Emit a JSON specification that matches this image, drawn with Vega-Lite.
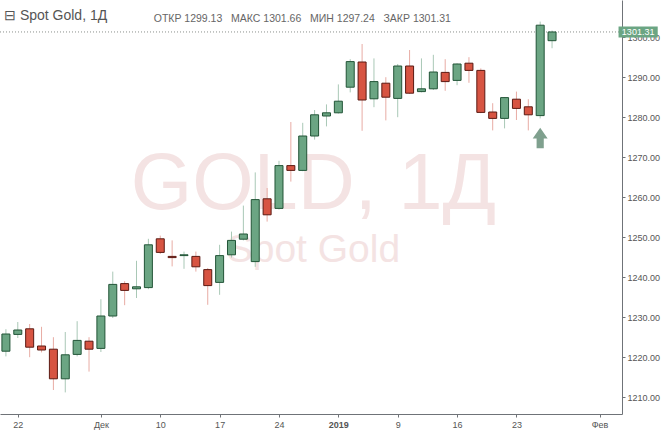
{
  "$schema": "https://vega.github.io/schema/vega-lite/v6.json",
  "autosize": {"type": "none"},
  "width": 622,
  "height": 414,
  "padding": {"left": 0, "top": 0, "right": 43, "bottom": 20},
  "background": "white",
  "title": {
    "text": "⊟ Spot Gold, 1Д",
    "anchor": "start",
    "frame": "group",
    "baseline": "alphabetic",
    "offset": -34,
    "dx": 4,
    "font": "Liberation Sans",
    "fontSize": 14,
    "fontWeight": "normal",
    "color": "#555555"
  },
  "datasets": {
    "candles": [
      {"d": "2018-11-21", "n": -1, "o": 1221.5, "h": 1227.0, "l": 1220.2, "c": 1225.8},
      {"d": "2018-11-22", "n": 0, "o": 1225.7, "h": 1228.8, "l": 1224.8, "c": 1226.8},
      {"d": "2018-11-23", "n": 1, "o": 1227.1, "h": 1228.3, "l": 1220.0, "c": 1222.5},
      {"d": "2018-11-26", "n": 2, "o": 1222.8, "h": 1227.6, "l": 1221.2, "c": 1221.8},
      {"d": "2018-11-27", "n": 3, "o": 1222.0, "h": 1225.0, "l": 1211.8, "c": 1214.6},
      {"d": "2018-11-28", "n": 4, "o": 1214.6, "h": 1226.3, "l": 1211.2, "c": 1220.6},
      {"d": "2018-11-29", "n": 5, "o": 1220.7, "h": 1229.0, "l": 1220.2, "c": 1224.2},
      {"d": "2018-11-30", "n": 6, "o": 1224.0, "h": 1225.0, "l": 1216.4, "c": 1222.0},
      {"d": "2018-12-03", "n": 7, "o": 1222.2, "h": 1234.5, "l": 1221.3, "c": 1230.3},
      {"d": "2018-12-04", "n": 8, "o": 1230.3, "h": 1241.4, "l": 1229.8, "c": 1238.2},
      {"d": "2018-12-05", "n": 9, "o": 1238.4, "h": 1239.0, "l": 1233.0, "c": 1236.7},
      {"d": "2018-12-06", "n": 10, "o": 1237.1, "h": 1244.1, "l": 1234.8, "c": 1237.6},
      {"d": "2018-12-07", "n": 11, "o": 1237.4, "h": 1249.6, "l": 1237.0, "c": 1248.1},
      {"d": "2018-12-10", "n": 12, "o": 1249.6, "h": 1250.4, "l": 1245.8, "c": 1246.2},
      {"d": "2018-12-11", "n": 13, "o": 1245.2, "h": 1249.2, "l": 1242.7, "c": 1244.9},
      {"d": "2018-12-12", "n": 14, "o": 1245.4, "h": 1246.4, "l": 1242.1, "c": 1245.6},
      {"d": "2018-12-13", "n": 15, "o": 1245.2, "h": 1246.4, "l": 1241.4, "c": 1242.6},
      {"d": "2018-12-14", "n": 16, "o": 1241.9, "h": 1242.3, "l": 1233.1, "c": 1237.9},
      {"d": "2018-12-17", "n": 17, "o": 1238.7, "h": 1248.1, "l": 1235.6, "c": 1245.4},
      {"d": "2018-12-18", "n": 18, "o": 1245.6, "h": 1251.4, "l": 1244.9, "c": 1249.2},
      {"d": "2018-12-19", "n": 19, "o": 1249.5, "h": 1257.9, "l": 1249.2, "c": 1250.8},
      {"d": "2018-12-20", "n": 20, "o": 1243.9, "h": 1266.2, "l": 1242.6, "c": 1259.4},
      {"d": "2018-12-21", "n": 21, "o": 1259.6, "h": 1262.3, "l": 1253.9, "c": 1255.6},
      {"d": "2018-12-24", "n": 22, "o": 1257.2, "h": 1269.1, "l": 1256.9, "c": 1267.9},
      {"d": "2018-12-26", "n": 23, "o": 1267.9, "h": 1278.8, "l": 1263.9, "c": 1266.7},
      {"d": "2018-12-27", "n": 24, "o": 1266.7, "h": 1278.6, "l": 1266.5, "c": 1275.3},
      {"d": "2018-12-28", "n": 25, "o": 1275.3, "h": 1281.8, "l": 1274.4, "c": 1280.6},
      {"d": "2018-12-31", "n": 26, "o": 1280.3, "h": 1283.2, "l": 1277.7, "c": 1281.1},
      {"d": "2019-01-02", "n": 27, "o": 1281.1, "h": 1288.2, "l": 1280.9, "c": 1284.0},
      {"d": "2019-01-03", "n": 28, "o": 1287.5, "h": 1294.5, "l": 1286.2, "c": 1293.9},
      {"d": "2019-01-04", "n": 29, "o": 1293.8, "h": 1298.3, "l": 1276.6, "c": 1284.3},
      {"d": "2019-01-07", "n": 30, "o": 1284.6, "h": 1294.7, "l": 1282.5, "c": 1288.9},
      {"d": "2019-01-08", "n": 31, "o": 1288.5, "h": 1290.0, "l": 1279.2, "c": 1285.0},
      {"d": "2019-01-09", "n": 32, "o": 1284.7, "h": 1293.3, "l": 1280.0, "c": 1292.8},
      {"d": "2019-01-10", "n": 33, "o": 1292.8, "h": 1296.8, "l": 1285.8, "c": 1286.0},
      {"d": "2019-01-11", "n": 34, "o": 1286.4, "h": 1294.7, "l": 1286.2, "c": 1287.1},
      {"d": "2019-01-14", "n": 35, "o": 1287.1, "h": 1295.6, "l": 1286.8, "c": 1291.3},
      {"d": "2019-01-15", "n": 36, "o": 1291.2, "h": 1294.5, "l": 1286.6, "c": 1288.9},
      {"d": "2019-01-16", "n": 37, "o": 1289.2, "h": 1293.5, "l": 1288.0, "c": 1293.3},
      {"d": "2019-01-17", "n": 38, "o": 1293.5, "h": 1295.0, "l": 1288.6, "c": 1291.7},
      {"d": "2019-01-18", "n": 39, "o": 1291.7, "h": 1292.2, "l": 1281.0, "c": 1281.2},
      {"d": "2019-01-21", "n": 40, "o": 1281.3, "h": 1283.5, "l": 1276.7, "c": 1279.7},
      {"d": "2019-01-22", "n": 41, "o": 1279.7, "h": 1285.0, "l": 1277.2, "c": 1284.9},
      {"d": "2019-01-23", "n": 42, "o": 1284.5, "h": 1286.4, "l": 1279.3, "c": 1282.2},
      {"d": "2019-01-24", "n": 43, "o": 1282.6, "h": 1284.5, "l": 1276.7, "c": 1280.6},
      {"d": "2019-01-25", "n": 44, "o": 1280.4, "h": 1303.9, "l": 1279.7, "c": 1303.0},
      {"d": "2019-01-28", "n": 45, "o": 1299.13, "h": 1301.66, "l": 1297.24, "c": 1301.31}
    ],
    "last": [{"price": 1301.31, "label": "1301.31"}],
    "marker": [{"n": 44, "price": 1274.8}]
  },
  "encoding": {
    "x": {
      "type": "quantitative",
      "scale": {"domain": [-1.077, 50.47], "nice": false, "zero": false},
      "axis": {
        "title": null,
        "orient": "bottom",
        "values": [0, 7, 12, 17, 22, 27, 32, 37, 42, 49],
        "labelExpr": "['22','Дек','10','17','24','2019','9','16','23','Фев'][indexof([0,7,12,17,22,27,32,37,42,49], datum.value)]",
        "labelFontWeight": {"condition": {"test": "datum.value == 27", "value": "bold"}, "value": "normal"},
        "labelFlush": false,
        "labelOverlap": false,
        "labelPadding": 3,
        "tickSize": 3
      }
    },
    "y": {
      "type": "quantitative",
      "scale": {"domain": [1205.8, 1309.3], "nice": false, "zero": false},
      "axis": {
        "title": null,
        "orient": "right",
        "values": [1210, 1220, 1230, 1240, 1250, 1260, 1270, 1280, 1290, 1300],
        "format": ".2f",
        "labelPadding": 2,
        "tickSize": 3
      }
    }
  },
  "layer": [
    {
      "data": {"values": [{"t": "GOLD, 1Д"}]},
      "mark": {"type": "text", "font": "Liberation Sans", "fontSize": 79, "align": "center", "baseline": "alphabetic", "color": "#f4e3e3"},
      "encoding": {
        "x": {"datum": 24.9},
        "y": {"datum": 1257.1},
        "text": {"field": "t"}
      }
    },
    {
      "data": {"values": [{"t": "Spot Gold"}]},
      "mark": {"type": "text", "font": "Liberation Sans", "fontSize": 39, "align": "center", "baseline": "alphabetic", "color": "#f4e3e3"},
      "encoding": {
        "x": {"datum": 24.9},
        "y": {"datum": 1243.8},
        "text": {"field": "t"}
      }
    },
    {
      "data": {"name": "last"},
      "mark": {"type": "rule", "color": "#8a8f8c", "strokeDash": [1, 2], "strokeWidth": 1},
      "encoding": {
        "x": null,
        "y": {"field": "price"}
      }
    },
    {
      "data": {"name": "candles"},
      "mark": {"type": "rule", "strokeWidth": 1},
      "encoding": {
        "x": {"field": "n"},
        "y": {"field": "l"},
        "y2": {"field": "h"},
        "color": {"condition": {"test": "datum.c >= datum.o", "value": "#a9c8b6"}, "value": "#e8aca4"}
      }
    },
    {
      "data": {"name": "candles"},
      "mark": {"type": "bar", "size": 8, "strokeWidth": 1},
      "encoding": {
        "x": {"field": "n"},
        "y": {"field": "o"},
        "y2": {"field": "c"},
        "fill": {"condition": {"test": "datum.c >= datum.o", "value": "#6ba583"}, "value": "#d75442"},
        "stroke": {"condition": {"test": "datum.c >= datum.o", "value": "#225437"}, "value": "#5b1a13"}
      }
    },
    {
      "data": {"name": "marker"},
      "mark": {
        "type": "point",
        "filled": true,
        "shape": "M0,-1L0.73,0.05L0.35,0.05L0.35,1L-0.35,1L-0.35,0.05L-0.73,0.05Z",
        "size": 420,
        "color": "#7fa08e",
        "opacity": 1
      },
      "encoding": {
        "x": {"field": "n"},
        "y": {"field": "price"}
      }
    },
    {
      "data": {"name": "last"},
      "mark": {"type": "rect", "color": "#6ba583", "clip": false},
      "encoding": {
        "x": {"datum": 50.6},
        "x2": {"datum": 53.9},
        "y": {"datum": 1302.7},
        "y2": {"datum": 1299.9}
      }
    },
    {
      "data": {"name": "last"},
      "mark": {"type": "text", "font": "Liberation Sans", "fontSize": 9, "color": "white", "align": "center", "baseline": "middle", "clip": false},
      "encoding": {
        "x": {"datum": 52.25},
        "y": {"field": "price"},
        "text": {"field": "label"}
      }
    },
    {
      "data": {"values": [{"t": "ОТКР 1299.13 \u00a0 МАКС 1301.66 \u00a0 МИН 1297.24 \u00a0 ЗАКР 1301.31"}]},
      "mark": {"type": "text", "font": "Liberation Sans", "fontSize": 10.5, "color": "#666666", "align": "left", "baseline": "alphabetic"},
      "encoding": {
        "x": {"datum": 11.45},
        "y": {"datum": 1303.8},
        "text": {"field": "t"}
      }
    }
  ],
  "config": {
    "view": {"stroke": null},
    "axis": {
      "labelFont": "Liberation Sans",
      "labelFontSize": 9,
      "labelColor": "#555555",
      "domainColor": "#6f7378",
      "tickColor": "#6f7378",
      "gridColor": "#e6e9ed",
      "gridWidth": 1
    }
  }
}
